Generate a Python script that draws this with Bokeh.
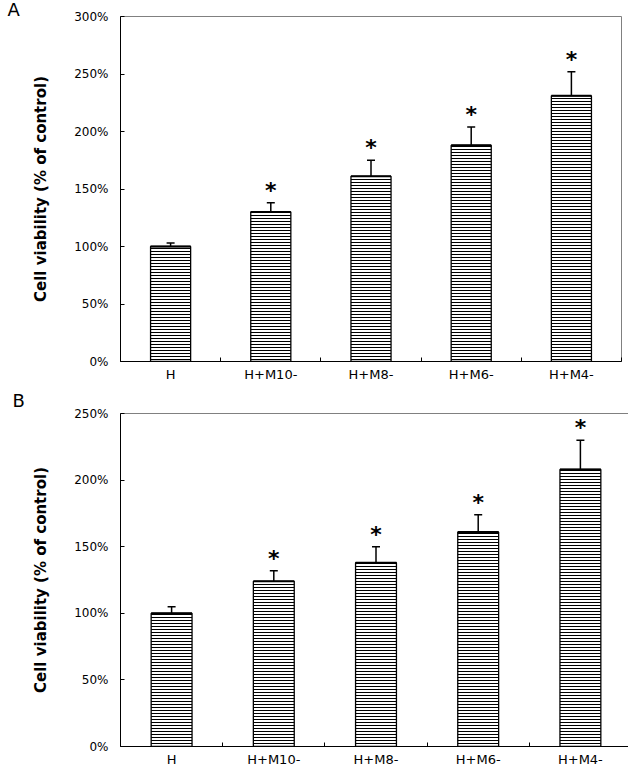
from bokeh.plotting import figure
from bokeh.models import (Range1d, FixedTicker, PrintfTickFormatter, Whisker,
                          TeeHead, ColumnDataSource)
from bokeh.layouts import column
from bokeh.embed import file_html
from bokeh.resources import INLINE
from bokeh.core.properties import value

groups = ["H", "H+M10-", "H+M8-", "H+M6-", "H+M4-"]

a_mean = [100, 130, 161, 188, 231]
a_err = [3, 8, 14, 16, 21]
a_sig = [False, True, True, True, True]
a_ticks = [0, 50, 100, 150, 200, 250, 300]

b_mean = [100, 124, 138, 161, 208]
b_err = [5, 8, 12, 13, 22]
b_sig = [False, True, True, True, True]
b_ticks = [0, 50, 100, 150, 200, 250]

FONT = "DejaVu Sans"


def make_panel(letter, means, errs, sig, yticks, left, fw, fh, top, bottom, right,
               letter_offset, letter_standoff):
    xs = [i + 0.5 for i in range(len(groups))]
    src = ColumnDataSource(dict(
        x=xs, top=means,
        upper=[m + e for m, e in zip(means, errs)],
    ))
    p = figure(x_range=Range1d(0, len(groups)), y_range=Range1d(yticks[0], yticks[-1]),
               frame_width=fw, frame_height=fh,
               min_border_left=left, min_border_right=right,
               min_border_top=top, min_border_bottom=bottom,
               output_backend="svg", toolbar_location=None, tools="")
    p.background_fill_color = "white"
    p.border_fill_color = "white"
    p.outline_line_color = "#808080"
    p.outline_line_width = 1
    p.xgrid.visible = False
    p.ygrid.visible = False

    # panel letter as the figure title
    p.title.text = letter
    p.title.align = "left"
    p.title.offset = letter_offset
    p.title.standoff = letter_standoff
    p.title.text_font = FONT
    p.title.text_font_size = "18px"
    p.title.text_font_style = "normal"
    p.title.text_color = "black"

    p.vbar(x="x", top="top", bottom=0, width=0.4, source=src,
           fill_color="white", line_color="black", line_width=1.3,
           hatch_pattern="horizontal_line", hatch_color="black",
           hatch_scale=3, hatch_weight=1)
    p.segment(x0=[x - 0.2 for x in xs], x1=[x + 0.2 for x in xs],
              y0=means, y1=means, line_color="black", line_width=2)

    w = Whisker(base="x", lower="top", upper="upper", source=src,
                line_color="black", line_width=1.5,
                upper_head=TeeHead(size=8, line_color="black", line_width=1.5),
                lower_head=None)
    p.add_layout(w)

    sx = [x for x, s in zip(xs, sig) if s]
    sy = [m + e for m, e, s in zip(means, errs, sig) if s]
    p.text(x=sx, y=sy, text=["*"] * len(sx), text_align="center",
           text_baseline="bottom", text_font=value(FONT),
           text_font_size="22px", text_font_style="bold", text_color="black")

    # axes
    p.yaxis.ticker = FixedTicker(ticks=yticks)
    p.yaxis.formatter = PrintfTickFormatter(format="%d%%")
    p.yaxis.major_tick_in = 4
    p.yaxis.major_tick_out = 0
    p.yaxis.minor_tick_line_color = None
    p.yaxis.major_label_standoff = 12
    p.yaxis.major_label_text_font = FONT
    p.yaxis.major_label_text_font_size = "12px"
    p.yaxis.major_label_text_color = "black"
    p.yaxis.axis_label = "Cell viability (% of control)"
    p.yaxis.axis_label_text_font = FONT
    p.yaxis.axis_label_text_font_size = "15px"
    p.yaxis.axis_label_text_font_style = "bold"
    p.yaxis.axis_label_text_color = "black"
    p.yaxis.axis_label_standoff = 21
    p.yaxis.axis_line_color = "black"

    p.xaxis.ticker = FixedTicker(ticks=xs, minor_ticks=list(range(len(groups) + 1)))
    p.xaxis.major_label_overrides = {x: g for x, g in zip(xs, groups)}
    p.xaxis.major_tick_in = 0
    p.xaxis.major_tick_out = 0
    p.xaxis.minor_tick_in = 4
    p.xaxis.minor_tick_out = 0
    p.xaxis.minor_tick_line_color = "black"
    p.xaxis.major_label_standoff = 5
    p.xaxis.major_label_text_font = FONT
    p.xaxis.major_label_text_font_size = "13px"
    p.xaxis.major_label_text_color = "black"
    p.xaxis.axis_line_color = "black"
    return p


pa = make_panel("A", a_mean, a_err, a_sig, a_ticks, 120, 501, 345, 5, 22, 7, -113, -7)
pb = make_panel("B", b_mean, b_err, b_sig, b_ticks, 115, 511, 333, 29, 22, 2, -108, 6)

layout = column(pa, pb, spacing=0)
open("out.html", "w").write(file_html(layout, INLINE))
